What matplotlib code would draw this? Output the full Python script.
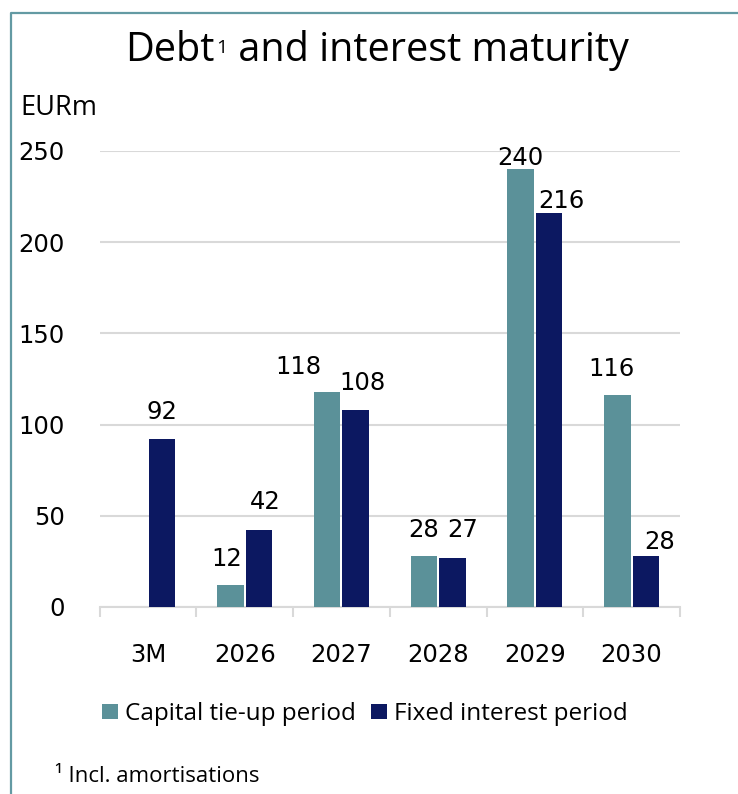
import numpy as np
import matplotlib
matplotlib.use("Agg")
import matplotlib.pyplot as plt
from matplotlib.lines import Line2D

# Data
categories = ["3M", "2026", "2027", "2028", "2029", "2030"]
capital_tieup = [0, 12, 118, 28, 240, 116]
fixed_interest = [92, 42, 108, 27, 216, 28]
series_names = ["Capital tie-up period", "Fixed interest period"]
y_ticks = [0, 50, 100, 150, 200, 250]

# Label nudges (pixels) so the value labels do not collide
capital_dx = [0, -4, -29, 0, 0, -6]
capital_dy = [19, 19, 18, 19, 4, 19]
fixed_dx = [0, 6, 7, 10, 12, 14]
fixed_dy = [20, 21, 20, 21, 5, 7]

TEAL = "#5b9199"
NAVY = "#0c1861"
GRID = "#d9d9d9"
BORDER = "#639aa3"

plt.rcParams["font.family"] = ["Open Sans", "DejaVu Sans"]
NUM_FONT = ["DejaVu Sans"]  # wider digits, closer to the source
NUM_SIZE = 17.5

W, H = 738, 794
fig = plt.figure(figsize=(W / 100, H / 100), dpi=100)


def fx(px):
    return px / W


def fy(py):
    return 1 - py / H


ax = fig.add_axes([fx(99.5), fy(607), fx(680) - fx(99.5), fy(151) - fy(607)])

x = np.arange(len(categories))
bw = 0.275
off = 0.147
ax.bar(x - off, capital_tieup, bw, color=TEAL, label=series_names[0], zorder=3)
ax.bar(x + off, fixed_interest, bw, color=NAVY, label=series_names[1], zorder=3)

px2pt = 72 / 100
for i, v in enumerate(capital_tieup):
    if v > 0:
        ax.annotate(str(v), (x[i] - off, v),
                    xytext=(capital_dx[i] * px2pt, capital_dy[i] * px2pt),
                    textcoords="offset points", ha="center", va="baseline",
                    fontsize=NUM_SIZE, family=NUM_FONT)
for i, v in enumerate(fixed_interest):
    if v > 0:
        ax.annotate(str(v), (x[i] + off, v),
                    xytext=(fixed_dx[i] * px2pt, fixed_dy[i] * px2pt),
                    textcoords="offset points", ha="center", va="baseline",
                    fontsize=NUM_SIZE, family=NUM_FONT)

ax.set_xlim(-0.5, len(categories) - 0.5)
ax.set_ylim(0, 250)
ax.set_yticks(y_ticks)
ax.set_yticklabels([str(t) for t in y_ticks], fontsize=NUM_SIZE, family=NUM_FONT)
ax.set_xticks(x)
ax.set_xticklabels(categories, fontsize=NUM_SIZE, family=NUM_FONT)
ax.set_xticks(np.arange(len(categories) + 1) - 0.5, minor=True)

ax.tick_params(axis="y", length=0, pad=25)
ax.tick_params(axis="x", which="major", length=0, pad=26)
ax.tick_params(axis="x", which="minor", length=7.5, width=1.5, color=GRID)

ax.yaxis.grid(True, color=GRID, linewidth=1.5, zorder=0)
ax.set_axisbelow(True)
for s in ["top", "right", "left"]:
    ax.spines[s].set_visible(False)
ax.spines["bottom"].set_color(GRID)
ax.spines["bottom"].set_linewidth(1.5)

# title in three pieces so the footnote mark sits like in the source
renderer = fig.canvas.get_renderer()
t1 = fig.text(fx(125), fy(61), "Debt", fontsize=28.5, ha="left", va="baseline")
e1 = t1.get_window_extent(renderer)
t2 = fig.text(fx(e1.x1 + 2), fy(61 - 8), "1", fontsize=14,
              ha="left", va="baseline")
e2 = t2.get_window_extent(renderer)
fig.text(fx(e2.x1), fy(61), " and interest maturity", fontsize=28.5,
         ha="left", va="baseline")

fig.text(fx(20), fy(115), "EURm", fontsize=19.5, ha="left", va="baseline")
fig.text(fx(55), fy(781.7), "¹ Incl. amortisations", fontsize=16,
         ha="left", va="baseline")

fig.legend(loc="center", bbox_to_anchor=(fx(365), fy(714)), ncol=2,
           frameon=False, fontsize=17.5, handlelength=0.65, handleheight=0.6,
           handletextpad=0.3, columnspacing=0.6, borderpad=0)

# frame on left and top like the source slide
fig.add_artist(Line2D([fx(10.7), fx(10.7), 1.0], [0.0, fy(12.7), fy(12.7)],
                      transform=fig.transFigure, color=BORDER, linewidth=1.6))

fig.savefig("out.png", dpi=100)
